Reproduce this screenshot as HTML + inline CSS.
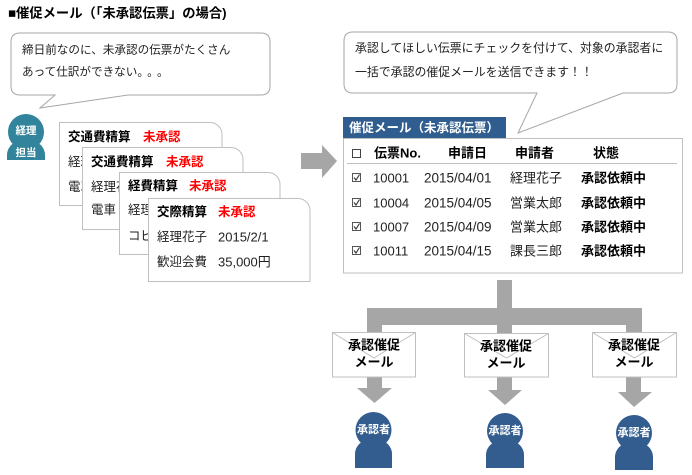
<!DOCTYPE html>
<html><head><meta charset="utf-8"><style>
html,body{margin:0;padding:0;background:#fff;}
svg{display:block;}
text{font-family:"Liberation Sans","Noto Sans CJK JP",sans-serif;dominant-baseline:central;}
.b{font-weight:bold;}
</style></head><body>
<svg width="692" height="475" viewBox="0 0 692 475" xmlns="http://www.w3.org/2000/svg">
<!-- title -->
<text x="8" y="13" class="b" font-size="13.3" fill="#000">■催促メール（「未承認伝票」の場合)</text>

<!-- bubble 1 -->
<path d="M20,33 H261 Q270,33 270,42 V86 Q270,95 261,95 H128 L40,108 L55,95 H20 Q11,95 11,86 V42 Q11,33 20,33 Z" fill="#fff" stroke="#a6a6a6" stroke-width="1"/>
<text x="22" y="50" font-size="11.6" fill="#222">締日前なのに、未承認の伝票がたくさん</text>
<text x="22" y="72" font-size="11.6" fill="#222">あって仕訳ができない<tspan letter-spacing="4">。。。</tspan></text>

<!-- teal person -->
<g fill="#31849B">
<circle cx="26" cy="132" r="18"/>
<path d="M7,160 V155 A14,14 0 0 1 21,141 H31 A14,14 0 0 1 45,155 V160 Z"/>
</g>
<text x="26" y="131" text-anchor="middle" class="b" font-size="10.5" fill="#fff">経理</text>
<text x="26" y="153" text-anchor="middle" class="b" font-size="10.5" fill="#fff">担当</text>

<!-- cards -->
<path d="M59.5,122.5 H210 A12,12 0 0 1 222,134.5 V205.5 H59.5 Z" fill="#fff" stroke="#bfbfbf"/>
<text x="68" y="137" class="b" font-size="12.5" fill="#000">交通費精算</text>
<text x="143" y="137" class="b" font-size="12.5" fill="#ff0000">未承認</text>
<text x="68" y="162" font-size="12.5" fill="#222">経理花子</text>
<text x="68" y="187" font-size="12.5" fill="#222">電車代</text>

<path d="M82.5,147.5 H231 A12,12 0 0 1 243,159.5 V229.5 H82.5 Z" fill="#fff" stroke="#bfbfbf"/>
<text x="91" y="162" class="b" font-size="12.5" fill="#000">交通費精算</text>
<text x="166" y="162" class="b" font-size="12.5" fill="#ff0000">未承認</text>
<text x="91" y="187" font-size="12.5" fill="#222">経理花子</text>
<text x="91" y="210" font-size="12.5" fill="#222">電車</text>

<path d="M119.5,172.5 H268 A12,12 0 0 1 280,184.5 V254.5 H119.5 Z" fill="#fff" stroke="#bfbfbf"/>
<text x="128" y="186" class="b" font-size="12.5" fill="#000">経費精算</text>
<text x="189" y="186" class="b" font-size="12.5" fill="#ff0000">未承認</text>
<text x="128" y="210" font-size="12.5" fill="#222">経理花子</text>
<text x="128" y="236" font-size="12.5" fill="#222">コピー用紙</text>

<path d="M148.5,198.5 H298 A12,12 0 0 1 310,210.5 V281.5 H148.5 Z" fill="#fff" stroke="#bfbfbf"/>
<text x="157" y="212" class="b" font-size="12.5" fill="#000">交際精算</text>
<text x="218" y="212" class="b" font-size="12.5" fill="#ff0000">未承認</text>
<text x="157" y="237" font-size="12.5" fill="#222">経理花子</text>
<text x="218" y="237" font-size="13" fill="#222">2015/2/1</text>
<text x="157" y="262" font-size="12.5" fill="#222">歓迎会費</text>
<text x="218" y="262" font-size="13" fill="#222">35,000円</text>

<!-- right arrow -->
<polygon points="301,153 322,153 322,145 337,161 322,178 322,169 301,169" fill="#a6a6a6"/>

<!-- bubble 2 -->
<path d="M353,32 H668 Q677,32 677,41 V84 Q677,93 668,93 H623 L518,133 L537,93 H353 Q344,93 344,84 V41 Q344,32 353,32 Z" fill="#fff" stroke="#a6a6a6" stroke-width="1"/>
<text x="355" y="48" font-size="11.9" fill="#222">承認してほしい伝票にチェックを付けて、対象の承認者に</text>
<text x="355" y="72" font-size="11.9" fill="#222">一括で承認の催促メールを送信できます！！</text>

<!-- table panel -->
<rect x="343.5" y="138.5" width="339" height="134.5" fill="#fff" stroke="#bfbfbf"/>
<rect x="343" y="117" width="163" height="21" fill="#2F5D8F"/>
<text x="349" y="128" class="b" font-size="12.5" fill="#fff">催促メール（未承認伝票）</text>

<rect x="352.5" y="149.5" width="8" height="8" fill="#fff" stroke="#444"/>
<text x="374" y="153" class="b" font-size="13" fill="#000">伝票No.</text>
<text x="448" y="153" class="b" font-size="13" fill="#000">申請日</text>
<text x="515" y="153" class="b" font-size="13" fill="#000">申請者</text>
<text x="593" y="153" class="b" font-size="13" fill="#000">状態</text>
<line x1="347" y1="163.5" x2="677" y2="163.5" stroke="#bfbfbf"/>

<g font-size="13" fill="#222">
<g>
<rect x="352.5" y="173.5" width="8" height="8" fill="#fff" stroke="#555"/>
<path d="M354,177.5 L356,180 L359.5,174.5" fill="none" stroke="#333" stroke-width="1.1"/>
<text x="373" y="178">10001</text><text x="424" y="178" font-size="13.5">2015/04/01</text><text x="510" y="178">経理花子</text><text x="581" y="178" class="b" fill="#000">承認依頼中</text>
</g>
<g>
<rect x="352.5" y="198.5" width="8" height="8" fill="#fff" stroke="#555"/>
<path d="M354,202.5 L356,205 L359.5,199.5" fill="none" stroke="#333" stroke-width="1.1"/>
<text x="373" y="203">10004</text><text x="424" y="203" font-size="13.5">2015/04/05</text><text x="510" y="203">営業太郎</text><text x="581" y="203" class="b" fill="#000">承認依頼中</text>
</g>
<g>
<rect x="352.5" y="222.5" width="8" height="8" fill="#fff" stroke="#555"/>
<path d="M354,226.5 L356,229 L359.5,223.5" fill="none" stroke="#333" stroke-width="1.1"/>
<text x="373" y="227">10007</text><text x="424" y="227" font-size="13.5">2015/04/09</text><text x="510" y="227">営業太郎</text><text x="581" y="227" class="b" fill="#000">承認依頼中</text>
</g>
<g>
<rect x="352.5" y="246.5" width="8" height="8" fill="#fff" stroke="#555"/>
<path d="M354,250.5 L356,253 L359.5,247.5" fill="none" stroke="#333" stroke-width="1.1"/>
<text x="373" y="251">10011</text><text x="424" y="251" font-size="13.5">2015/04/15</text><text x="510" y="251">課長三郎</text><text x="581" y="251" class="b" fill="#000">承認依頼中</text>
</g>
</g>

<!-- connector tree -->
<g fill="#a6a6a6">
<rect x="497" y="280" width="15" height="54"/>
<rect x="367" y="308" width="275" height="17"/>
<rect x="367" y="308" width="15" height="25"/>
<rect x="626" y="308" width="16" height="25"/>
<!-- down arrows -->
<rect x="367" y="376" width="15" height="13"/>
<polygon points="357,388 392,388 374.5,403"/>
<rect x="497" y="376" width="15" height="15"/>
<polygon points="488,390 522,390 505,405"/>
<rect x="626" y="376" width="15" height="17"/>
<polygon points="618,392 652,392 634,407"/>
</g>

<!-- envelopes -->
<g fill="#fff" stroke="#bfbfbf" stroke-width="1">
<rect x="332.5" y="332.5" width="83" height="44.5"/>
<polyline points="332.5,332.5 374,358 415.5,332.5" fill="none"/>
<rect x="464.5" y="333.5" width="84" height="43.5"/>
<polyline points="464.5,333.5 506.5,358 548.5,333.5" fill="none"/>
<rect x="592.5" y="332.5" width="84" height="44.5"/>
<polyline points="592.5,332.5 634.5,358 676.5,332.5" fill="none"/>
</g>
<g class="b" font-size="13" fill="#000" text-anchor="middle">
<text x="374" y="345">承認催促</text><text x="374" y="362">メール</text>
<text x="506" y="346">承認催促</text><text x="506" y="363">メール</text>
<text x="634" y="345">承認催促</text><text x="634" y="362">メール</text>
</g>

<!-- approvers -->
<g fill="#335D8F">
<circle cx="373.5" cy="430" r="18"/>
<path d="M355,468 V454 A14,14 0 0 1 369,440 H378 A14,14 0 0 1 392,454 V468 Z"/>
<circle cx="505" cy="431" r="18"/>
<path d="M486,468 V455 A14,14 0 0 1 500,441 H510 A14,14 0 0 1 524,455 V468 Z"/>
<circle cx="634" cy="433" r="18"/>
<path d="M615,470 V457 A14,14 0 0 1 629,443 H639 A14,14 0 0 1 653,457 V470 Z"/>
</g>
<g class="b" font-size="11" fill="#fff" text-anchor="middle">
<text x="373.5" y="430">承認者</text>
<text x="505" y="431">承認者</text>
<text x="634" y="433">承認者</text>
</g>
</svg>
</body></html>
